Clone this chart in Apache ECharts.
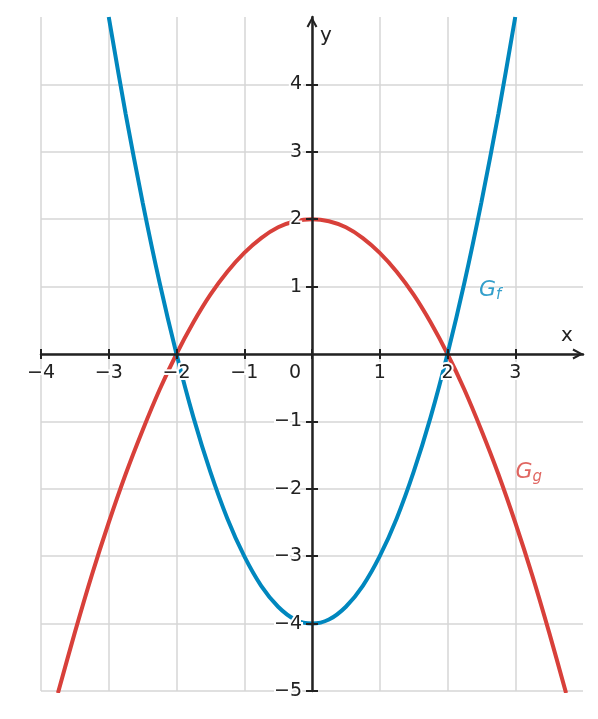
<!DOCTYPE html>
<html>
<head>
<meta charset="utf-8">
<script src="https://cdn.jsdelivr.net/npm/echarts@6/dist/echarts.min.js"></script>
<style>html,body{margin:0;padding:0;background:#fff}#c{width:598px;height:719px}</style>
</head>
<body>
<div id="c"></div>
<script>
// x positions at which the curves were read
var xF = [-3, -2.75, -2.5, -2.25, -2, -1.75, -1.5, -1.25, -1, -0.75, -0.5, -0.25, 0,
          0.25, 0.5, 0.75, 1, 1.25, 1.5, 1.75, 2, 2.25, 2.5, 2.75, 3];
var yF = [5, 3.56, 2.25, 1.06, 0, -0.94, -1.75, -2.44, -3, -3.44, -3.75, -3.94, -4,
          -3.94, -3.75, -3.44, -3, -2.44, -1.75, -0.94, 0, 1.06, 2.25, 3.56, 5];
var xG = [-3.75, -3.5, -3.25, -3, -2.75, -2.5, -2.25, -2, -1.75, -1.5, -1.25, -1, -0.75, -0.5, -0.25, 0,
          0.25, 0.5, 0.75, 1, 1.25, 1.5, 1.75, 2, 2.25, 2.5, 2.75, 3, 3.25, 3.5, 3.75];
var yG = [-5.03, -4.13, -3.28, -2.5, -1.78, -1.13, -0.53, 0, 0.47, 0.88, 1.22, 1.5, 1.72, 1.88, 1.97, 2,
          1.97, 1.88, 1.72, 1.5, 1.22, 0.88, 0.47, 0, -0.53, -1.13, -1.78, -2.5, -3.28, -4.13, -5.03];
var xTicks = [-4, -3, -2, -1, 0, 1, 2, 3];
var yTicks = [-5, -4, -3, -2, -1, 1, 2, 3, 4];
var labelF = {x: 2.63, y: 0.95, text: 'G', sub: 'f'};
var labelG = {x: 3.2, y: -1.75, text: 'G', sub: 'g'};

var BLUE = '#0087be', RED = '#d8403a', AX = '#222222', GRID = '#d6d6d6';
var FONT = 'DejaVu Sans';
var chevron = 'path://M0,13 L7,0 L14,13 L11.6,14.2 L7,5.6 L2.4,14.2 Z';

function zip(xs, ys) { return xs.map(function (x, i) { return [x, ys[i]]; }); }

var W = 598, H = 719, GL = 41, GR = 15, GT = 17, GB = 28;
// shift each axis from the grid edge to the zero line of the other axis
var xOff = -((H - GT - GB) * 5 / 10);
var yOff = -((W - GL - GR) * 4 / 8);

var chart = echarts.init(document.getElementById('c'), null, {renderer: 'canvas'});
var baseX = {type: 'value', min: -4, max: 4, interval: 1, position: 'bottom', offset: xOff};
var baseY = {type: 'value', min: -5, max: 5, interval: 1, position: 'left', offset: yOff};
var labelStyle = {color: AX, fontFamily: FONT, fontSize: 19, textBorderColor: '#fff', textBorderWidth: 4};
var hidden = {axisLine: {show: false, onZero: false}, axisTick: {show: false}, axisLabel: {show: false}, splitLine: {show: false}};
var gridLine = {show: true, showMinLine: true, showMaxLine: false, lineStyle: {color: GRID, width: 1.5}};

function minus(v) { return v < 0 ? '\u2212' + Math.abs(v) : String(v); }

chart.setOption({
  animation: false,
  grid: {left: GL, right: GR, top: GT, bottom: GB, containLabel: false},
  xAxis: [
    // grid lines (below the curves)
    Object.assign({}, baseX, hidden, {z: 0, splitLine: gridLine}),
    // axis line, outer ticks, labels (above the curves)
    Object.assign({}, baseX, {
      z: 10,
      name: 'x',
      nameLocation: 'end',
      nameGap: -16,
      nameTextStyle: {color: AX, fontFamily: FONT, fontSize: 20, align: 'center', verticalAlign: 'bottom', padding: [0, 0, 8, 0]},
      axisLine: {onZero: false, lineStyle: {color: AX, width: 2.5}, symbol: ['none', chevron], symbolSize: [14, 11], symbolOffset: [0, -5]},
      axisTick: {show: true, inside: false, length: 5, lineStyle: {color: AX, width: 2}, customValues: xTicks},
      axisLabel: Object.assign({}, labelStyle, {
        margin: 10,
        customValues: xTicks,
        formatter: function (v) { return v === 0 ? '{o|0}' : minus(v); },
        rich: {o: {color: AX, fontFamily: FONT, fontSize: 19, padding: [0, 34, 0, 0], textBorderColor: '#fff', textBorderWidth: 4}}
      }),
      splitLine: {show: false}
    }),
    // inner ticks
    Object.assign({}, baseX, hidden, {
      z: 10,
      axisTick: {show: true, inside: true, length: 5, lineStyle: {color: AX, width: 2}, customValues: xTicks}
    })
  ],
  yAxis: [
    Object.assign({}, baseY, hidden, {z: 0, splitLine: gridLine}),
    Object.assign({}, baseY, {
      z: 10,
      name: 'y',
      nameLocation: 'end',
      nameGap: -19,
      nameTextStyle: {color: AX, fontFamily: FONT, fontSize: 20, align: 'left', verticalAlign: 'middle', padding: [0, 0, 0, 8]},
      axisLine: {onZero: false, lineStyle: {color: AX, width: 2.5}, symbol: ['none', chevron], symbolSize: [14, 11], symbolOffset: [0, -5]},
      axisTick: {show: true, inside: false, length: 6, lineStyle: {color: AX, width: 2}, customValues: yTicks},
      axisLabel: Object.assign({}, labelStyle, {
        margin: 10,
        customValues: yTicks,
        formatter: minus
      }),
      splitLine: {show: false}
    }),
    Object.assign({}, baseY, hidden, {
      z: 10,
      axisTick: {show: true, inside: true, length: 6, lineStyle: {color: AX, width: 2}, customValues: yTicks}
    })
  ],
  series: [
    {
      type: 'line', name: 'g', xAxisIndex: 0, yAxisIndex: 0, z: 3,
      data: zip(xG, yG), smooth: 0.3, showSymbol: false, symbol: 'none',
      lineStyle: {color: RED, width: 4}, clip: true
    },
    {
      type: 'line', name: 'f', xAxisIndex: 0, yAxisIndex: 0, z: 4,
      data: zip(xF, yF), smooth: 0.3, showSymbol: false, symbol: 'none',
      lineStyle: {color: BLUE, width: 4}, clip: true
    },
    {
      type: 'scatter', xAxisIndex: 0, yAxisIndex: 0, symbolSize: 0, z: 5,
      data: [
        {value: [labelF.x, labelF.y], label: {formatter: '{m|' + labelF.text + '}{s|' + labelF.sub + '}', rich: {m: {color: BLUE}, s: {color: BLUE}}}},
        {value: [labelG.x, labelG.y], label: {formatter: '{m|' + labelG.text + '}{s|' + labelG.sub + '}', rich: {m: {color: RED}, s: {color: RED}}}}
      ],
      label: {
        show: true, position: 'inside',
        rich: {
          m: {fontFamily: FONT, fontStyle: 'italic', fontSize: 22, textBorderColor: '#fff', textBorderWidth: 1},
          s: {fontFamily: FONT, fontStyle: 'italic', fontSize: 15, padding: [10, 0, 0, 0], textBorderColor: '#fff', textBorderWidth: 1}
        }
      }
    }
  ]
});
</script>
</body>
</html>
